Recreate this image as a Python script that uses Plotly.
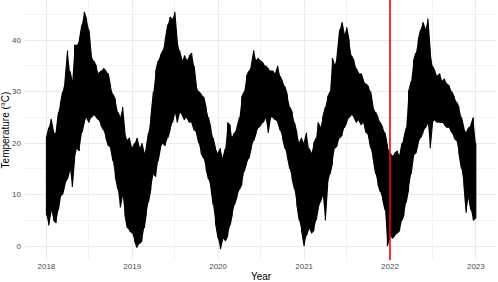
import datetime as dt
import plotly.graph_objects as go

# envelope of the temperature trace, read every ~10 days (1st, 11th, 21st of each month)
hi_2018 = [21, 23, 24.7, 22, 22, 26, 27.5, 30, 32, 38, 34, 32, 39, 39, 40, 43, 45.5, 44,
           42, 37, 36, 35, 33.5, 34, 34.5, 34, 33.5, 31, 29.5, 28.5, 26, 25, 27, 22, 20.5, 21]
lo_2018 = [6, 4, 7, 5, 4.5, 7, 9.5, 10, 12, 13, 15, 11.5, 17, 19, 18.5, 22, 24, 25,
           24, 25, 25.5, 25, 24.5, 23.5, 22.5, 21, 19.5, 19, 16.5, 13.5, 11, 7.5, 10, 6, 3.5, 3]
hi_2019 = [19, 20, 21, 19, 20, 18, 19, 22, 25, 30, 34, 36, 37, 38, 40, 43, 44.5, 44,
           45.5, 40, 38, 36, 37, 36, 37, 37.5, 35, 31, 30, 29.5, 29, 27, 25, 23, 21, 19]
lo_2019 = [2.5, 1, -0.3, 0.5, 1, 3.5, 6, 8.5, 11, 14, 13.5, 16.5, 19, 20, 19.5, 21, 22.5, 24,
           26, 24, 26, 25.5, 24.5, 25, 24, 24, 22.5, 22, 20, 18, 17, 15, 13, 11.5, 8, 4.5]
hi_2020 = [18, 19, 17, 19, 24, 23.5, 21, 22, 23, 25, 29, 30, 33, 34, 35, 38, 36, 36.5,
           36, 35.5, 35, 34.5, 34, 34, 33.5, 35, 33, 32, 31, 29.5, 27, 26, 24, 22, 20, 21]
lo_2020 = [1.5, -0.6, 1.5, 1, 2, 4, 6, 8, 9.5, 11, 12, 14.5, 16, 17, 19, 20.5, 22, 23,
           23.5, 24, 25, 22, 25, 25, 24.5, 24, 22.5, 21, 19, 17.5, 15, 13, 11, 8, 5, 3]
hi_2021 = [20, 22, 19, 18, 20, 21, 24, 23, 25, 27, 29, 30, 36.5, 35, 37, 42, 43.5, 41,
           42.5, 40, 37, 36, 34.5, 33.5, 33.5, 32, 31.5, 31, 30, 27, 26, 25, 24, 23, 22, 19.5]
lo_2021 = [0, 2, 3.5, 2.5, 3, 5, 7, 8.5, 10, 5, 12, 14, 16, 19, 19.5, 21, 21.5, 23,
           24, 25, 25.5, 25, 24, 24.5, 23.5, 24, 22, 21.5, 19, 17, 14, 12, 10.5, 9, 7, 0]
hi_2022 = [18, 17.5, 18, 18.5, 17.5, 20, 21, 23, 30, 32, 36, 37.5, 40, 42, 43.5, 42, 44.2, 38,
           35, 34, 33, 33.5, 32, 32.5, 31.5, 31, 30, 29, 28, 27, 25, 23, 22, 23, 23.5, 25]
lo_2022 = [2, 1.5, 2, 2.5, 3, 5, 6, 8.5, 11, 14, 17.5, 18, 20, 21, 22, 23, 24, 19,
           24, 24.5, 24, 24, 24, 23.5, 23, 23, 22, 21, 20.5, 18, 15, 12, 6.5, 9.5, 7, 5]
hi_end = 20
lo_end = 5.5

years = [2018, 2019, 2020, 2021, 2022]
marker_date = "2022-01-01"

dates = [dt.date(y, m, d) for y in years for m in range(1, 13) for d in (1, 11, 21)]
dates.append(dt.date(2023, 1, 1))
hi = hi_2018 + hi_2019 + hi_2020 + hi_2021 + hi_2022 + [hi_end]
lo = lo_2018 + lo_2019 + lo_2020 + lo_2021 + lo_2022 + [lo_end]

# zigzag between low and high so the trace reads as a dense band
xs, ys = [], []
for i, (d, l, h) in enumerate(zip(dates, lo, hi)):
    xs += [d, d]
    ys += [l, h] if i % 2 == 0 else [h, l]

fig = go.Figure()
fig.add_trace(go.Scatter(
    x=dates + dates[::-1], y=hi + lo[::-1],
    fill="toself", fillcolor="black", mode="none", hoverinfo="skip",
))
fig.add_trace(go.Scatter(
    x=xs, y=ys, mode="lines", line=dict(color="black", width=1.1),
))

fig.add_shape(type="line", x0=marker_date, x1=marker_date, xref="x",
              y0=0, y1=1, yref="paper", line=dict(color="red", width=1.6))

fig.update_layout(
    width=498, height=282,
    margin=dict(l=25, r=1, t=0, b=22),
    plot_bgcolor="white", paper_bgcolor="white",
    showlegend=False,
    font=dict(family="Liberation Sans, Arial, sans-serif", size=10, color="black"),
)
fig.update_xaxes(
    type="date", range=["2017-10-02", "2023-04-01"],
    dtick="M12", tickformat="%Y", ticks="",
    tickfont=dict(size=8, color="#4d4d4d"),
    showgrid=True, gridcolor="#ebebeb", gridwidth=0.8,
    minor=dict(dtick="M6", showgrid=True, gridcolor="#f3f3f3", gridwidth=0.5),
    zeroline=False, showline=False,
    title=dict(text="Year", font=dict(size=10), standoff=4),
    automargin=False,
)
fig.update_yaxes(
    range=[-2.7, 47.8], tickvals=[0, 10, 20, 30, 40], ticks="",
    tickfont=dict(size=8, color="#4d4d4d"), ticklabelstandoff=3,
    showgrid=True, gridcolor="#ebebeb", gridwidth=0.8,
    minor=dict(tickvals=[5, 15, 25, 35, 45], showgrid=True, gridcolor="#f3f3f3", gridwidth=0.5),
    zeroline=False, showline=False,
    title=dict(text="Temperature (°C)", font=dict(size=10), standoff=1),
    automargin=False,
)

fig.write_html("out.html", config={"displayModeBar": False},
               post_script="document.body.style.margin='0';")
